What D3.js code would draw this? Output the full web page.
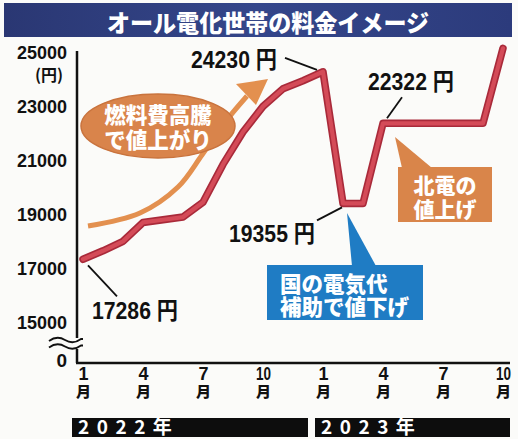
<!DOCTYPE html>
<html><head><meta charset="utf-8">
<script src="https://cdn.jsdelivr.net/npm/d3@7"></script>
<style>body{margin:0;background:#fbfbf9;} svg{display:block}</style>
</head><body>
<script>
// ---- data ----
const title = "オール電化世帯の料金イメージ";
const values = [17286,17600,17950,18650,18750,18850,19400,20800,22000,22950,23600,23900,
                24230,19355,19355,22322,22322,22322,22322,22322,22322,25100];
const yTicks = [15000,17000,19000,21000,23000,25000];
const yUnit = "(円)";
const xTickIndex = [0,3,6,9,12,15,18,21];
const xTickLabels = ["1","4","7","10","1","4","7","10"];
const monthChar = "月";
const years = ["2022年","2023年"];
const calloutIdx = [0,12,13,15];
const calloutText = ["17286 円","24230 円","19355 円","22322 円"];
const fuelNote = ["燃料費高騰","で値上がり"];
const subsidyNote = ["国の電気代","補助で値下げ"];
const hokudenNote = ["北電の","値上げ"];

// ---- layout ----
const W = 518, H = 439;
const JP = "'Noto Sans CJK JP','Noto Sans',sans-serif";
const NUM = "'Liberation Sans','DejaVu Sans','Noto Sans CJK JP',sans-serif";
const x = d3.scaleLinear([0, 21], [83, 503]);
const y = d3.scaleLinear([15000, 25000], [321, 51]);

const svg = d3.select("body").append("svg").attr("width", W).attr("height", H);
svg.append("rect").attr("width", W).attr("height", H).attr("fill", "#fbfbf9");

const defs = svg.append("defs");
const g1 = defs.append("linearGradient").attr("id", "tg").attr("x1", 0).attr("x2", 1);
g1.append("stop").attr("offset", 0).attr("stop-color", "#2a3773");
g1.append("stop").attr("offset", 0.5).attr("stop-color", "#34468a");
g1.append("stop").attr("offset", 1).attr("stop-color", "#2c3b7c");

// title banner
svg.append("rect").attr("x", 4).attr("y", 3).attr("width", 508).attr("height", 34).attr("fill", "url(#tg)");
svg.append("text").attr("x", 268).attr("y", 21).attr("text-anchor", "middle")
  .attr("dominant-baseline", "central").attr("fill", "#fff")
  .attr("font-family", JP).attr("font-weight", 900).attr("font-size", 24)
  .attr("textLength", 322).attr("lengthAdjust", "spacingAndGlyphs")
  .text(title);

// ---- y axis ----
const yAxis = svg.append("g").attr("transform", "translate(77,0)")
  .call(d3.axisLeft(y).tickValues(yTicks).tickSize(0).tickPadding(10).tickFormat(d3.format("d")));
yAxis.select(".domain").remove();
yAxis.selectAll("text").attr("font-family", NUM).attr("font-weight", 700).attr("font-size", 19)
  .attr("fill", "#111").attr("dy", "0.42em").attr("textLength", 50).attr("lengthAdjust", "spacingAndGlyphs");
svg.append("text").attr("x", 67).attr("y", 360).attr("text-anchor", "end").attr("dominant-baseline", "central")
  .attr("font-family", NUM).attr("font-weight", 700).attr("font-size", 19).attr("fill", "#111").text("0");
svg.append("text").attr("x", 49).attr("y", 74).attr("text-anchor", "middle").attr("dominant-baseline", "central")
  .attr("font-family", JP).attr("font-weight", 700).attr("font-size", 16).attr("fill", "#111").text(yUnit);

// axis lines
svg.append("line").attr("x1", 77).attr("x2", 77).attr("y1", 51).attr("y2", 338).attr("stroke", "#111").attr("stroke-width", 2.5);
svg.append("line").attr("x1", 77).attr("x2", 77).attr("y1", 349).attr("y2", 363).attr("stroke", "#111").attr("stroke-width", 2.5);
svg.append("line").attr("x1", 76).attr("x2", 510).attr("y1", 363).attr("y2", 363).attr("stroke", "#111").attr("stroke-width", 2.5);
// break marks
[340, 346.5].forEach(yy => {
  svg.append("path").attr("d", `M49,${yy+1} q8,-6 16,-1 t16,-1 l2,0`)
    .attr("fill", "none").attr("stroke", "#111").attr("stroke-width", 1.8);
});

// ---- x axis ----
const xAxis = svg.append("g").attr("transform", "translate(0,363)")
  .call(d3.axisBottom(x).tickValues(xTickIndex).tickSize(0).tickPadding(0)
    .tickFormat((d, i) => xTickLabels[i]));
xAxis.select(".domain").remove();
xAxis.selectAll(".tick text").attr("font-family", NUM).attr("font-weight", 700).attr("font-size", 18)
  .attr("fill", "#111").attr("y", 17).attr("dy", 0)
  .each(function(d, i) { if (xTickLabels[i].length > 1) d3.select(this).attr("textLength", 15).attr("lengthAdjust", "spacingAndGlyphs"); });
xAxis.selectAll(".tick").append("text").attr("y", 34).attr("text-anchor", "middle")
  .attr("font-family", JP).attr("font-weight", 900).attr("font-size", 15).attr("fill", "#111").text(monthChar);

// year bars
const yearBars = [[72, 308], [315, 510]];
years.forEach((t, i) => {
  svg.append("rect").attr("x", yearBars[i][0]).attr("y", 418).attr("width", yearBars[i][1] - yearBars[i][0]).attr("height", 19).attr("fill", "#0d0d0d");
  svg.append("text").attr("x", yearBars[i][0] + 6).attr("y", 434).attr("fill", "#fff")
    .attr("font-family", JP).attr("font-weight", 700).attr("font-size", 19).attr("letter-spacing", 7.5).text(t);
});

// ---- fuel arrow + bubble ----
const arrowPts = [[88,226],[140,213],[178,187],[202,155],[226,121],[247,96]];
svg.append("path").attr("d", d3.line().curve(d3.curveCatmullRom)(arrowPts))
  .attr("fill", "none").attr("stroke", "#e3904f").attr("stroke-width", 5);
svg.append("polygon").attr("points", "268,79 236,84 256,105").attr("fill", "#e3904f");
svg.append("ellipse").attr("cx", 158).attr("cy", 126).attr("rx", 77).attr("ry", 32)
  .attr("fill", "#d9844b").attr("stroke", "#c9733d").attr("stroke-width", 1.5);
fuelNote.forEach((t, i) => {
  svg.append("text").attr("x", 158).attr("y", 113 + i * 25).attr("text-anchor", "middle").attr("dominant-baseline", "central")
    .attr("font-family", JP).attr("font-weight", 900).attr("font-size", 21.5).attr("fill", "#fff").text(t);
});

// ---- price line ----
const line = d3.line().x((d, i) => x(i)).y(d => y(d));
svg.append("path").attr("d", line(values)).attr("fill", "none").attr("stroke", "#a92a3a")
  .attr("stroke-width", 7.5).attr("stroke-linejoin", "round").attr("stroke-linecap", "round");
svg.append("path").attr("d", line(values)).attr("fill", "none").attr("stroke", "#d44b58")
  .attr("stroke-width", 4.2).attr("stroke-linejoin", "round").attr("stroke-linecap", "round");

// ---- callouts (offsets relative to data point) ----
const calloutLayout = [
  {tx: 9,   ty: 60,  anchor: "start", l: [5, 6, 34, 37]},
  {tx: -46, ty: -4,  anchor: "end",   l: [-38, -14, -6, -2]},
  {tx: -28, ty: 39,  anchor: "end",   l: [-26, 17, -1, 4]},
  {tx: -15, ty: -33, anchor: "start", l: [19, -26, 4, -5]}
];
calloutIdx.forEach((idx, k) => {
  const px = x(idx), py = y(values[idx]), L = calloutLayout[k];
  svg.append("line").attr("x1", px + L.l[0]).attr("y1", py + L.l[1]).attr("x2", px + L.l[2]).attr("y2", py + L.l[3])
    .attr("stroke", "#111").attr("stroke-width", 1.8);
  svg.append("text").attr("x", px + L.tx).attr("y", py + L.ty).attr("text-anchor", L.anchor)
    .attr("font-family", NUM).attr("font-weight", 700).attr("font-size", 24).attr("fill", "#111")
    .attr("textLength", 86).attr("lengthAdjust", "spacingAndGlyphs").text(calloutText[k]);
});

// ---- subsidy (blue) box ----
svg.append("polygon").attr("points", "347,213 352,266 376,266").attr("fill", "#1f7cc4");
svg.append("rect").attr("x", 267).attr("y", 265).attr("width", 156).attr("height", 55).attr("fill", "#1f7cc4");
subsidyNote.forEach((t, i) => {
  svg.append("text").attr("x", 280).attr("y", 282 + i * 23).attr("dominant-baseline", "central")
    .attr("font-family", JP).attr("font-weight", 900).attr("font-size", 21.5).attr("fill", "#fff").text(t);
});

// ---- hokuden (orange) box ----
svg.append("polygon").attr("points", "395,137 402,168 432,168").attr("fill", "#d9854a");
svg.append("rect").attr("x", 398).attr("y", 167).attr("width", 94).attr("height", 55).attr("fill", "#d9854a");
hokudenNote.forEach((t, i) => {
  svg.append("text").attr("x", 445).attr("y", 184 + i * 24).attr("text-anchor", "middle").attr("dominant-baseline", "central")
    .attr("font-family", JP).attr("font-weight", 900).attr("font-size", 21).attr("fill", "#fff").text(t);
});
</script>
</body></html>
